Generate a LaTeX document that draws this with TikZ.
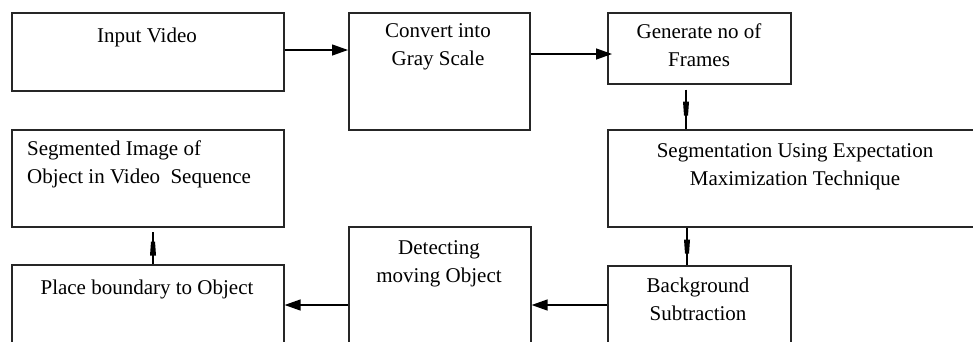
\documentclass[tikz,border=0pt]{standalone}
\usepackage{fontspec}
\setmainfont{Liberation Serif}
\usetikzlibrary{arrows.meta,calc}

\begin{document}
\begin{tikzpicture}[x=1pt,y=-1pt,
  box/.style={draw=black!85,line width=1.6pt,rectangle,inner sep=0pt,anchor=north west},
  txt/.style={font=\fontsize{21}{28}\selectfont,align=center,inner sep=0pt,anchor=north},
  flow/.style={line width=1.3pt,-{Triangle[length=16pt,width=11pt]}},
  vlink/.style={line width=1.3pt}
]
\useasboundingbox (0,0) rectangle (973,341);
\clip (0,0) rectangle (973,341);

% process boxes
\node[box,minimum width=272pt,minimum height=78pt]  (b1) at (11,12)  {};
\node[box,minimum width=181pt,minimum height=117pt] (b2) at (348,12) {};
\node[box,minimum width=183pt,minimum height=71pt]  (b3) at (607,12) {};
\node[box,minimum width=378pt,minimum height=97pt]  (b4) at (607,129) {};
\node[box,minimum width=183pt,minimum height=90pt]  (b5) at (607,265) {};
\node[box,minimum width=182pt,minimum height=130pt] (b6) at (348,226) {};
\node[box,minimum width=272pt,minimum height=92pt]  (b7) at (11,264) {};
\node[box,minimum width=272pt,minimum height=97pt]  (b8) at (11,129) {};

% box labels (first baseline sits 19.6pt below the node top)
\node[txt] (t1) at (147,22.4)  {\strut Input Video};
\node[txt] (t2) at (438,17.4)  {\strut Convert into\\Gray Scale};
\node[txt] (t3) at (699,18.4)  {\strut Generate no of\\Frames};
\node[txt] (t4) at (795,137.4) {\strut Segmentation Using Expectation\\Maximization Technique};
\node[txt] (t5) at (698,272.4) {\strut Background\\Subtraction};
\node[txt] (t6) at (439,234.4) {\strut Detecting\\moving Object};
\node[txt] (t7) at (147,274.4) {\strut Place boundary to Object};
\node[txt,align=left,anchor=north west] (t8) at (27,135.4) {\strut Segmented Image of\\Object in Video\ \ Sequence};

% horizontal connectors
\coordinate (a1s) at ($(b1.north east)+(0,38)$);
\draw[flow] (a1s) -- (a1s -| b2.west);

\coordinate (a2s) at ($(b2.north east)+(0,42)$);
\draw[flow] (a2s) -- ($(a2s -| b3.west)+(5,0)$);

\coordinate (a5s) at ($(b5.north west)+(0,40)$);
\draw[flow] (a5s) -- (a5s -| b6.east);

\coordinate (a6s) at ($(b6.north west)+(0,79)$);
\draw[flow] (a6s) -- (a6s -| b7.east);

% vertical connectors, each with a narrow filled bar midway
\coordinate (a3s) at ($(b3.south west)+(79,5)$);
\draw[vlink] (a3s) -- (a3s |- b4.north);
\coordinate (m3) at ($(a3s)+(0,19)$);
\fill (m3) ++(-3,-7) -- ++(6,0) -- ++(-1,14) -- ++(-4,0) -- cycle;

\coordinate (a4s) at ($(b4.south west)+(80,0)$);
\draw[vlink] (a4s) -- (a4s |- b5.north);
\coordinate (m4) at ($(a4s)+(0,19)$);
\fill (m4) ++(-3,-7) -- ++(6,0) -- ++(-1,14) -- ++(-4,0) -- cycle;

\coordinate (a7s) at ($(b7.north west)+(142,0)$);
\draw[vlink] (a7s) -- ($(a7s |- b8.south)+(0,4)$);
\coordinate (m7) at ($(a7s)+(0,-15.5)$);
\fill (m7) ++(-3,7) -- ++(6,0) -- ++(-1,-14) -- ++(-4,0) -- cycle;
\end{tikzpicture}
\end{document}
